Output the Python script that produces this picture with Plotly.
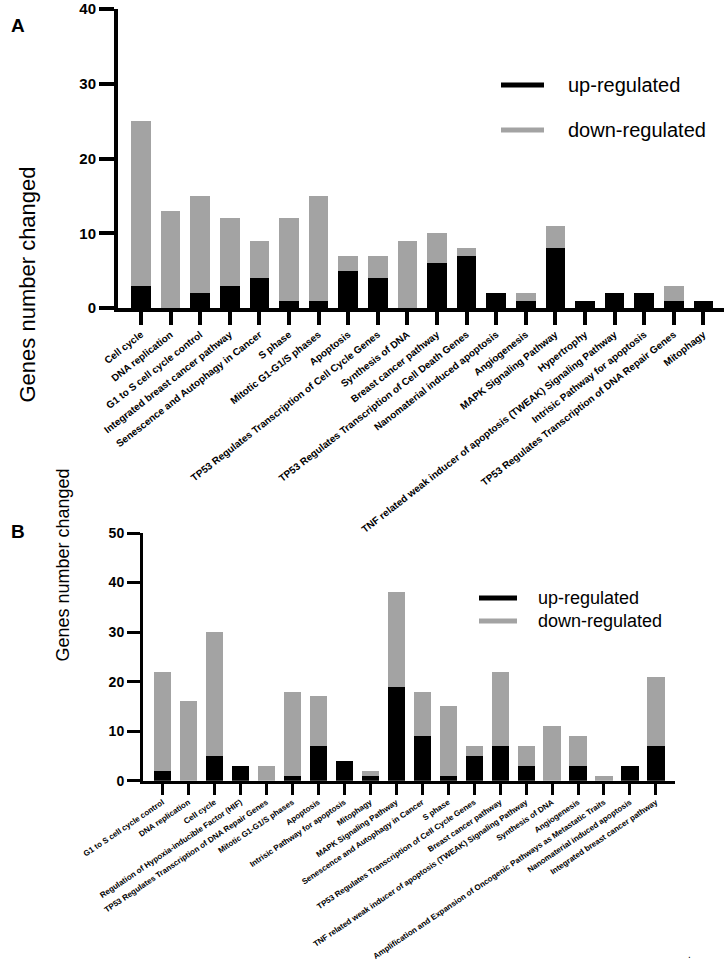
import plotly.graph_objects as go

W, H = 726, 973

# ---------------- data ----------------
cats_a = ["Cell cycle", "DNA replication", "G1 to S cell cycle control",
          "Integrated breast cancer pathway", "Senescence and Autophagy in Cancer",
          "S phase", "Mitotic G1-G1/S phases", "Apoptosis",
          "TP53 Regulates Transcription of Cell Cycle Genes", "Synthesis of DNA",
          "Breast cancer pathway", "TP53 Regulates Transcription of Cell Death Genes",
          "Nanomaterial induced apoptosis", "Angiogenesis", "MAPK Signaling Pathway",
          "Hypertrophy", "TNF related weak inducer of apoptosis (TWEAK) Signaling Pathway",
          "Intrisic Pathway for apoptosis",
          "TP53 Regulates Transcription of DNA Repair Genes", "Mitophagy"]
up_a = [3, 0, 2, 3, 4, 1, 1, 5, 4, 0, 6, 7, 2, 1, 8, 1, 2, 2, 1, 1]
down_a = [22, 13, 13, 9, 5, 11, 14, 2, 3, 9, 4, 1, 0, 1, 3, 0, 0, 0, 2, 0]

cats_b = ["G1 to S cell cycle control", "DNA replication", "Cell cycle",
          "Regulation of Hypoxia-inducible Factor (HIF)",
          "TP53 Regulates Transcription of DNA Repair Genes", "Mitotic G1-G1/S phases",
          "Apoptosis", "Intrisic Pathway for apoptosis", "Mitophagy",
          "MAPK Signaling Pathway", "Senescence and Autophagy in Cancer", "S phase",
          "TP53 Regulates Transcription of Cell Cycle Genes", "Breast cancer pathway",
          "TNF related weak inducer of apoptosis (TWEAK) Signaling Pathway",
          "Synthesis of DNA", "Angiogenesis",
          "Amplification and Expansion of Oncogenic Pathways as Metastatic Traits",
          "Nanomaterial induced apoptosis", "Integrated breast cancer pathway"]
up_b = [2, 0, 5, 3, 0, 1, 7, 4, 1, 19, 9, 1, 5, 7, 3, 0, 3, 0, 3, 7]
down_b = [20, 16, 25, 0, 3, 17, 10, 0, 1, 19, 9, 14, 2, 15, 4, 11, 6, 1, 0, 14]

yticks_a = [0, 10, 20, 30, 40]
yticks_b = [0, 10, 20, 30, 40, 50]

BLACK = "#000000"
GRAY = "#a3a3a3"
FONT = "Liberation Sans, Arial, sans-serif"


def px(x):
    return x / W


def py(y):
    return 1 - y / H


fig = go.Figure()

fig.add_trace(go.Bar(x=cats_a, y=up_a, marker_color=BLACK, marker_line_width=0,
                     name="up-regulated", showlegend=False, xaxis="x", yaxis="y"))
fig.add_trace(go.Bar(x=cats_a, y=down_a, marker_color=GRAY, marker_line_width=0,
                     name="down-regulated", showlegend=False, xaxis="x", yaxis="y"))
fig.add_trace(go.Bar(x=cats_b, y=up_b, marker_color=BLACK, marker_line_width=0,
                     name="up-regulated", showlegend=False, xaxis="x2", yaxis="y2"))
fig.add_trace(go.Bar(x=cats_b, y=down_b, marker_color=GRAY, marker_line_width=0,
                     name="down-regulated", showlegend=False, xaxis="x2", yaxis="y2"))

# panel A geometry
a_left, a_right, a_top, a_zero = 118, 724, 9, 308
a_first, a_step = 141, 29.6
# panel B geometry
b_left, b_right, b_top, b_zero = 143, 675, 533, 780.7
b_first, b_step = 162.5, 25.97

fig.update_layout(
    width=W, height=H,
    margin=dict(l=0, r=0, t=0, b=0, pad=0, autoexpand=False),
    paper_bgcolor="white", plot_bgcolor="white",
    barmode="stack", bargap=0.34,
    font=dict(family=FONT, color="black"),
    showlegend=False,
    xaxis=dict(
        domain=[px(a_left), px(a_right)], anchor="y",
        type="category", automargin=False,
        range=[-(a_first - a_left) / a_step, (a_right - a_first) / a_step],
        showline=True, linewidth=4, linecolor="black",
        ticks="outside", ticklen=13, tickwidth=4, tickcolor="black",
        tickangle=-38, tickfont=dict(size=10, family=FONT, weight="bold"),
        ticklabeloverflow="allow",
        showgrid=False, zeroline=False,
    ),
    yaxis=dict(
        domain=[py(a_zero), py(a_top)], anchor="x", automargin=False,
        range=[0, 40], tickvals=yticks_a,
        showline=True, linewidth=4, linecolor="black",
        ticks="outside", ticklen=15, tickwidth=4, tickcolor="black",
        tickfont=dict(size=15, family=FONT, weight="bold"),
        ticklabeloverflow="allow",
        showgrid=False, zeroline=False,
    ),
    xaxis2=dict(
        domain=[px(b_left), px(b_right)], anchor="y2",
        type="category", automargin=False,
        range=[-(b_first - b_left) / b_step, (b_right - b_first) / b_step],
        showline=True, linewidth=3, linecolor="black",
        ticks="outside", ticklen=11, tickwidth=3, tickcolor="black",
        tickangle=-34, tickfont=dict(size=8, family=FONT, weight="bold"),
        ticklabeloverflow="allow",
        showgrid=False, zeroline=False,
    ),
    yaxis2=dict(
        domain=[py(b_zero), py(b_top)], anchor="x2", automargin=False,
        range=[0, 50], tickvals=yticks_b,
        showline=True, linewidth=3, linecolor="black",
        ticks="outside", ticklen=13, tickwidth=3, tickcolor="black",
        tickfont=dict(size=14, family=FONT, weight="bold"),
        ticklabeloverflow="allow",
        showgrid=False, zeroline=False,
    ),
)

ann = []
shapes = []

# panel letters
ann.append(dict(text="<b>A</b>", x=px(9), y=py(13), xref="paper", yref="paper",
                showarrow=False, font=dict(size=19, family=FONT, color="black")))
ann.append(dict(text="<b>B</b>", x=px(9), y=py(531), xref="paper", yref="paper",
                showarrow=False, font=dict(size=19, family=FONT, color="black")))

# y titles
ann.append(dict(text="Genes number changed", textangle=-90, x=px(12), y=py(165),
                xref="paper", yref="paper", showarrow=False,
                font=dict(size=22, family=FONT, color="black")))
ann.append(dict(text="Genes number changed", textangle=-90, x=px(50), y=py(664),
                xref="paper", yref="paper", showarrow=False,
                font=dict(size=18, family=FONT, color="black")))


# legends
def legend_entry(x0, x1, xt, y, color, label, size, lw):
    shapes.append(dict(type="line", xref="paper", yref="paper",
                       x0=px(x0), x1=px(x1), y0=py(y), y1=py(y),
                       line=dict(color=color, width=lw)))
    ann.append(dict(text=label, x=px(xt), y=py(y), xref="paper", yref="paper",
                    xanchor="left", yanchor="middle", showarrow=False,
                    font=dict(size=size, family=FONT, color="black")))


legend_entry(501, 544, 566, 85, BLACK, "up-regulated", 20, 5)
legend_entry(501, 544, 566, 130, GRAY, "down-regulated", 20, 5)
legend_entry(479, 517, 536, 598, BLACK, "up-regulated", 18, 5)
legend_entry(479, 517, 536, 621, GRAY, "down-regulated", 18, 5)

# small dot at bottom right
ann.append(dict(text=".", x=px(693), y=py(962), xref="paper", yref="paper",
                showarrow=False, font=dict(size=10, family=FONT, color="black")))

fig.update_layout(annotations=ann, shapes=shapes)

fig.write_html(
    "out.html",
    config={"displayModeBar": False},
    post_script="document.body.style.margin='0';document.body.style.overflow='hidden';",
)
